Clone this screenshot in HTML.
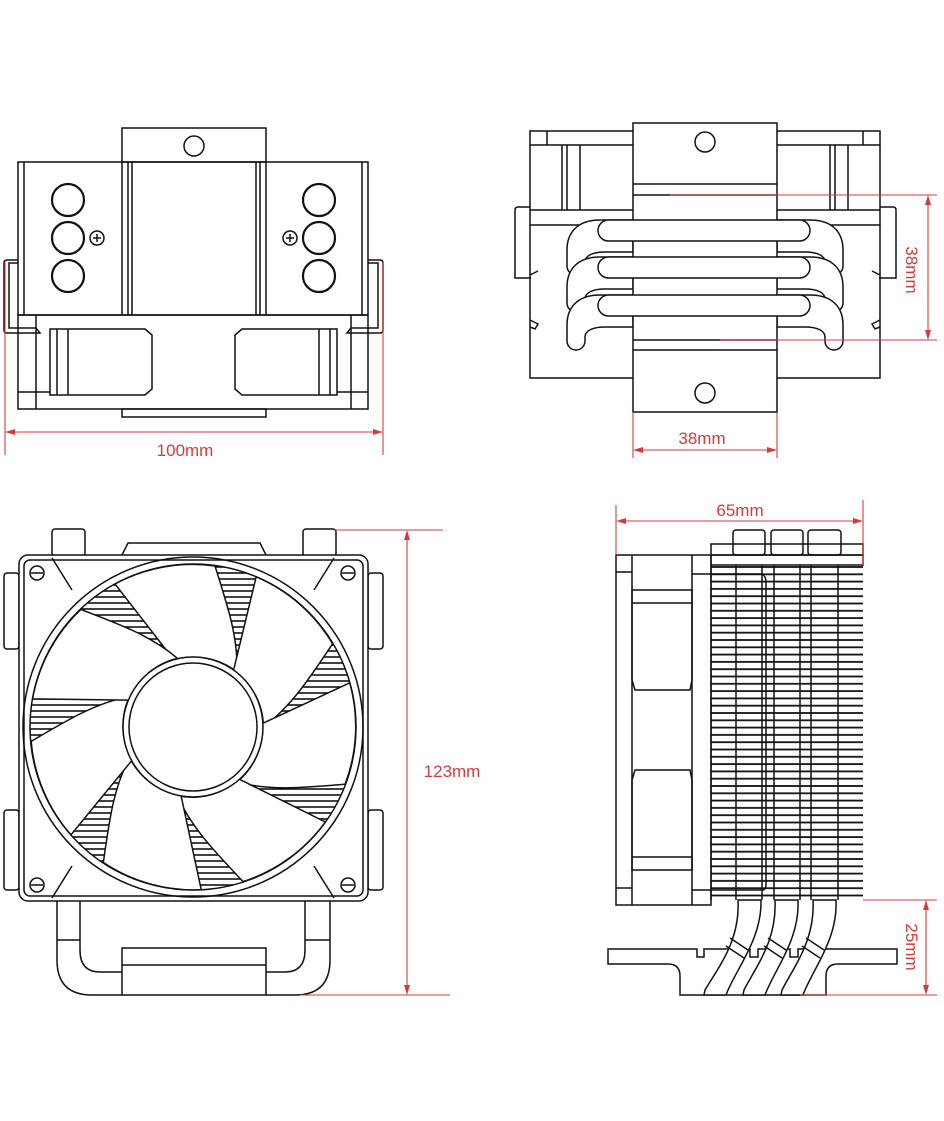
<!DOCTYPE html>
<html><head><meta charset="utf-8"><style>
html,body{margin:0;padding:0;background:#fff;}
svg{display:block;}
text{font-family:"Liberation Sans",sans-serif;fill:#d23c3c;font-size:17px;}
</style></head><body>
<svg width="944" height="1121" viewBox="0 0 944 1121" xmlns="http://www.w3.org/2000/svg">
<defs>
<pattern id="hatch" width="10" height="6" patternUnits="userSpaceOnUse"><line x1="0" y1="3" x2="10" y2="3" stroke="#111" stroke-width="1.6"/></pattern>
<pattern id="fins" width="10" height="7.3" patternUnits="userSpaceOnUse" y="566"><line x1="0" y1="1" x2="10" y2="1" stroke="#111" stroke-width="1.8"/></pattern>
<clipPath id="ring"><circle cx="193" cy="727" r="163"/></clipPath>
<path id="blade" d="M -19,-67 L -78,-143 A 163 163 0 0 1 22,-161 C 35,-120 45,-90 44,-55 A 70 70 0 0 0 -19,-67 Z" fill="#fff" stroke="#111" stroke-width="1.5"/>
<path id="uloop" d="M633,-8 H600 C578,-8 567,4 567,22 V38 A9,9 0 0 0 585,38 V34 C585,28 592,24 605,24 H633 Z M777,-8 H810 C832,-8 843,4 843,22 V38 A9,9 0 0 1 825,38 V34 C825,28 818,24 805,24 H777 Z" fill="#fff" stroke="#111" stroke-width="1.5"/>
</defs>

<g fill="none" stroke="#111" stroke-width="1.5">
<!-- ===== TOP-LEFT VIEW ===== -->
<rect x="122" y="128" width="144" height="34" fill="#fff"/>
<circle cx="194" cy="146" r="10"/>
<rect x="18" y="162" width="350" height="153"/>
<line x1="24" y1="162" x2="24" y2="315"/><line x1="362" y1="162" x2="362" y2="315"/>
<line x1="122" y1="162" x2="122" y2="315"/><line x1="128" y1="162" x2="128" y2="315"/><line x1="132" y1="162" x2="132" y2="315"/>
<line x1="256" y1="162" x2="256" y2="315"/><line x1="260" y1="162" x2="260" y2="315"/><line x1="266" y1="162" x2="266" y2="315"/>
<g stroke-width="2.2">
<circle cx="68" cy="200" r="16"/><circle cx="68" cy="238" r="16"/><circle cx="68" cy="276" r="16"/>
<circle cx="319" cy="200" r="16"/><circle cx="319" cy="238" r="16"/><circle cx="319" cy="276" r="16"/>
</g>
<circle cx="97" cy="238" r="7"/><path d="M93,238h8M97,234v8"/>
<circle cx="290" cy="238" r="7"/><path d="M286,238h8M290,234v8"/>
<path d="M18,260 H7 Q4,260 4,263 V330 Q4,333 7,333 H40 L36,328 H9 V263 H18"/>
<path d="M368,260 H380 Q383,260 383,263 V330 Q383,333 380,333 H347 L351,328 H378 V263 H368"/>
<rect x="18" y="315" width="350" height="94"/>
<line x1="36" y1="315" x2="36" y2="409"/><line x1="351" y1="315" x2="351" y2="409"/>
<line x1="18" y1="392" x2="50" y2="392"/><line x1="337" y1="392" x2="368" y2="392"/>
<path d="M50,329 H145 L152,335 V389 L145,395 H50 Z"/>
<line x1="57" y1="329" x2="57" y2="395"/><line x1="68" y1="329" x2="68" y2="395"/>
<path d="M337,329 H242 L235,335 V389 L242,395 H337 Z"/>
<line x1="330" y1="329" x2="330" y2="395"/><line x1="319" y1="329" x2="319" y2="395"/>
<rect x="122" y="409" width="144" height="8"/>

<!-- ===== TOP-RIGHT VIEW ===== -->
<rect x="530" y="131" width="350" height="14"/>
<line x1="547" y1="131" x2="547" y2="145"/><line x1="863" y1="131" x2="863" y2="145"/>
<line x1="562" y1="145" x2="562" y2="210"/><line x1="567" y1="145" x2="567" y2="210"/><line x1="580" y1="145" x2="580" y2="210"/>
<line x1="830" y1="145" x2="830" y2="210"/><line x1="835" y1="145" x2="835" y2="210"/><line x1="848" y1="145" x2="848" y2="210"/>
<line x1="530" y1="145" x2="530" y2="225"/><line x1="880" y1="145" x2="880" y2="225"/>
<line x1="530" y1="210" x2="880" y2="210"/>
<path d="M530,225 H880 V378 H530 Z"/>
<path d="M530,320 l8,4 l-3,5 l-5,-2 M880,320 l-8,4 l3,5 l5,-2 M530,275 l8,-4 M880,275 l-8,-4"/>
<path d="M530,207 H518 Q515,207 515,210 V278 H531 M880,207 H893 Q896,207 896,210 V278 H879"/>
<use href="#uloop" transform="translate(0,228)"/>
<use href="#uloop" transform="translate(0,265)"/>
<use href="#uloop" transform="translate(0,303)"/>
<rect x="633" y="123" width="144" height="289" fill="#fff"/>
<circle cx="705" cy="142" r="10"/><circle cx="705" cy="393" r="10"/>
<line x1="633" y1="184" x2="777" y2="184"/><line x1="633" y1="195" x2="777" y2="195"/>
<line x1="633" y1="340" x2="777" y2="340"/><line x1="633" y1="350" x2="777" y2="350"/>
<g fill="#fff">
<rect x="598" y="220" width="212" height="21" rx="10.5"/>
<rect x="598" y="257" width="212" height="21" rx="10.5"/>
<rect x="598" y="295" width="212" height="21" rx="10.5"/>
</g>

<!-- ===== FAN VIEW ===== -->
<rect x="52" y="529" width="33" height="27" rx="3"/><rect x="303" y="529" width="33" height="27" rx="3"/>
<path d="M122,555 L128,543 H260 L266,555"/>
<rect x="4" y="573" width="15" height="76" rx="3"/><rect x="4" y="810" width="15" height="80" rx="3"/>
<rect x="368" y="573" width="15" height="76" rx="3"/><rect x="368" y="810" width="15" height="80" rx="3"/>
<path d="M57,901 V960 Q57,995 92,995 H122 M80,901 V950 Q80,972 100,972 H122 M330,901 V960 Q330,995 295,995 H266 M305,901 V950 Q305,972 285,972 H266"/>
<line x1="57" y1="940" x2="80" y2="940"/><line x1="305" y1="940" x2="330" y2="940"/>
<rect x="122" y="948" width="144" height="47"/><line x1="122" y1="965" x2="266" y2="965"/>
<rect x="19" y="555" width="349" height="346" rx="9" fill="#fff"/>
<rect x="24" y="560" width="339" height="336" rx="6"/>
<g clip-path="url(#ring)"><rect x="28" y="560" width="330" height="340" fill="url(#hatch)" stroke="none"/></g>
<circle cx="193" cy="727" r="170"/>
<circle cx="193" cy="727" r="163"/>
<use href="#blade" transform="translate(193,727)"/>
<use href="#blade" transform="translate(193,727) rotate(51.43)"/>
<use href="#blade" transform="translate(193,727) rotate(102.86)"/>
<use href="#blade" transform="translate(193,727) rotate(154.29)"/>
<use href="#blade" transform="translate(193,727) rotate(205.71)"/>
<use href="#blade" transform="translate(193,727) rotate(257.14)"/>
<use href="#blade" transform="translate(193,727) rotate(308.57)"/>
<circle cx="193" cy="727" r="70" fill="#fff"/>
<circle cx="193" cy="727" r="64"/>
<g>
<circle cx="37" cy="573" r="7"/><circle cx="348" cy="573" r="7"/><circle cx="37" cy="885" r="7"/><circle cx="348" cy="885" r="7"/>
<path d="M31,573h12M342,573h12M31,885h12M342,885h12"/>
<path d="M52,558 L72,590 M334,558 L314,590 M52,898 L72,866 M334,898 L314,866"/>
</g>

<!-- ===== SIDE VIEW ===== -->
<rect x="616" y="555" width="95" height="350"/>
<line x1="632" y1="555" x2="632" y2="905"/><line x1="692" y1="555" x2="692" y2="905"/>
<line x1="616" y1="572" x2="632" y2="572"/><line x1="616" y1="888" x2="632" y2="888"/>
<path d="M632,590 H692 V603 H632 Z M632,603 V680 L635,690 H690 L692,680 V603"/>
<path d="M632,870 H692 V857 H632 Z M632,857 V780 L635,770 H690 L692,780 V857"/>
<rect x="733" y="530" width="32" height="25" rx="3"/><rect x="771" y="530" width="32" height="25" rx="3"/><rect x="808" y="530" width="33" height="25" rx="3"/>
<rect x="711" y="544" width="152" height="11"/>
<rect x="711" y="555" width="152" height="10"/>
<rect x="711" y="566" width="152" height="334" fill="url(#fins)" stroke="none"/>
<line x1="711" y1="565" x2="711" y2="900"/>
<line x1="736" y1="565" x2="736" y2="900"/><line x1="762" y1="565" x2="762" y2="900"/><line x1="774" y1="565" x2="774" y2="900"/>
<line x1="800" y1="565" x2="800" y2="900"/><line x1="811" y1="565" x2="811" y2="900"/><line x1="838" y1="565" x2="838" y2="900"/>
<path d="M692,574 H762 Q766,576 766,582 V885 Q766,890 762,890 H692"/>
<path d="M608,949 H697 V957 H704 V949 H750 V957 H758 V949 H790 V957 H798 V949 H897 V964 H838 Q826,964 826,976 V995 H680 V976 Q680,964 668,964 H608 Z" fill="#fff"/>
<g fill="#fff">
<path d="M738,900 C740,940 720,965 705,990 L704,995 H726 C735,970 762,940 761,900 Z"/>
<path d="M775,900 C777,940 757,965 744,990 L743,995 H765 C774,970 800,940 798,900 Z"/>
<path d="M813,900 C815,940 795,965 782,990 L781,995 H803 C812,970 838,940 836,900 Z"/>
</g>
<path d="M730,938 L748,950 M726,946 L744,958 M768,938 L786,950 M764,946 L782,958 M806,938 L824,950 M802,946 L820,958"/>
</g>

<!-- ===== DIMENSIONS ===== -->
<g stroke="#d23c3c" stroke-width="1.1" fill="#d23c3c">
<line x1="5" y1="262" x2="5" y2="455"/><line x1="383" y1="262" x2="383" y2="455"/>
<line x1="7" y1="432" x2="381" y2="432"/>
<path d="M5,432 l10,-3 v6 z M383,432 l-10,-3 v6 z" stroke="none"/>
<line x1="633" y1="412" x2="633" y2="458"/><line x1="777" y1="412" x2="777" y2="458"/>
<line x1="635" y1="450" x2="775" y2="450"/>
<path d="M633,450 l10,-3 v6 z M777,450 l-10,-3 v6 z" stroke="none"/>
<line x1="670" y1="195" x2="937" y2="195"/><line x1="720" y1="340" x2="937" y2="340"/>
<line x1="928" y1="197" x2="928" y2="338"/>
<path d="M928,195 l-3,10 h6 z M928,340 l-3,-10 h6 z" stroke="none"/>
<line x1="335" y1="530" x2="443" y2="530"/><line x1="300" y1="995" x2="450" y2="995"/>
<line x1="407" y1="532" x2="407" y2="993"/>
<path d="M407,530 l-3,10 h6 z M407,995 l-3,-10 h6 z" stroke="none"/>
<line x1="616" y1="505" x2="616" y2="555"/><line x1="863" y1="500" x2="863" y2="565"/>
<line x1="618" y1="521" x2="861" y2="521"/>
<path d="M616,521 l10,-3 v6 z M863,521 l-10,-3 v6 z" stroke="none"/>
<line x1="863" y1="900" x2="937" y2="900"/><line x1="800" y1="995" x2="937" y2="995"/>
<line x1="926" y1="902" x2="926" y2="993"/>
<path d="M926,900 l-3,10 h6 z M926,995 l-3,-10 h6 z" stroke="none"/>
</g>
<text x="185" y="456" text-anchor="middle">100mm</text>
<text x="702" y="444" text-anchor="middle">38mm</text>
<text x="452" y="777" text-anchor="middle">123mm</text>
<text x="740" y="516" text-anchor="middle">65mm</text>
<text transform="translate(906,270) rotate(90)" text-anchor="middle">38mm</text>
<text transform="translate(906,947) rotate(90)" text-anchor="middle">25mm</text>
</svg>
</body></html>
